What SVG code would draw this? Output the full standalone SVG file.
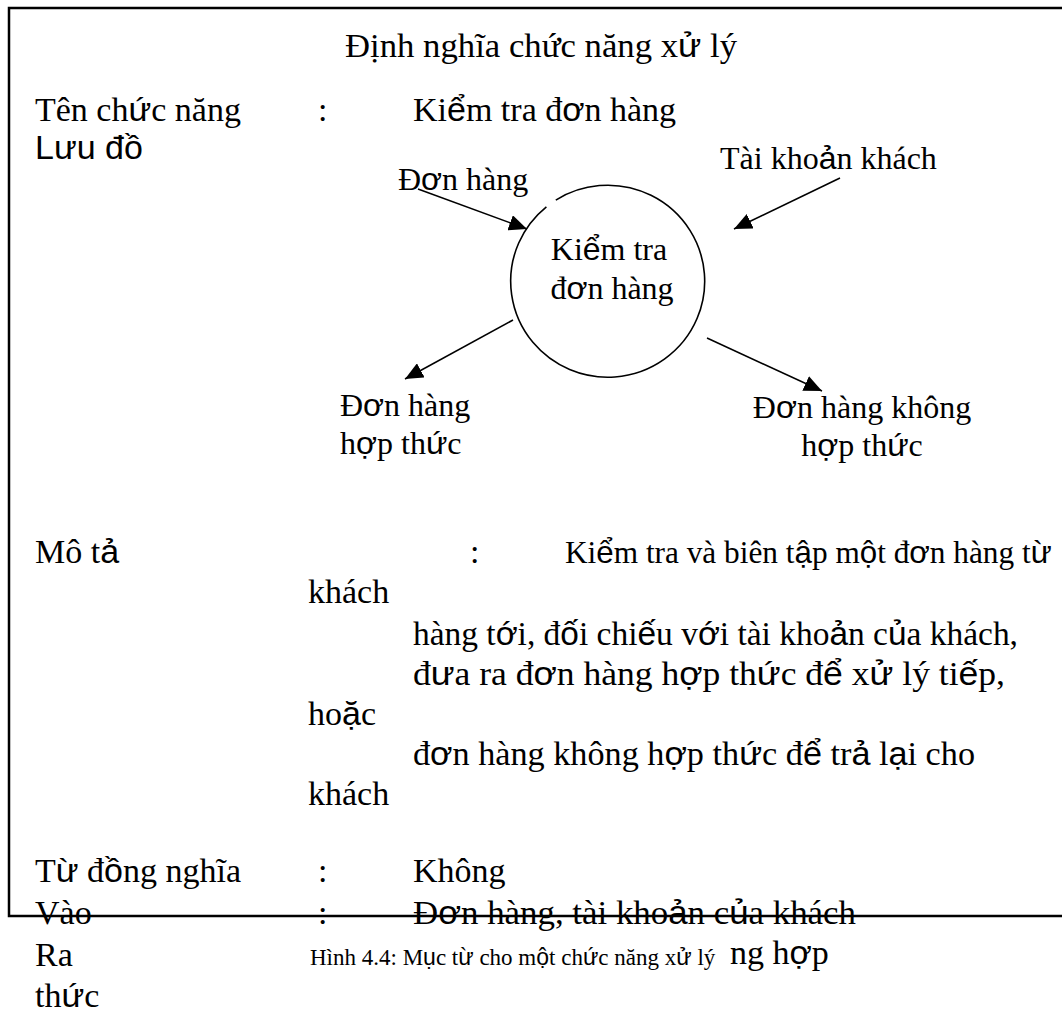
<svg xmlns="http://www.w3.org/2000/svg" width="1062" height="1014" viewBox="0 0 1062 1014">
  <style>
    text { font-family: "Liberation Serif", "Times New Roman", serif; font-size: 34px; fill: #000; }
    .lbl { font-size: 32px; }
    .cap { font-size: 23px; }
    .s { font-family: "Liberation Sans", Arial, sans-serif; }
    .frame { fill: none; stroke: #000; stroke-width: 2.5; }
    .flow { fill: none; stroke: #000; stroke-width: 1.6; }
  </style>
  <defs>
    <marker id="arrow" markerUnits="userSpaceOnUse" markerWidth="20" markerHeight="16" refX="18" refY="8" orient="auto">
      <path d="M0,0 L18,8 L0,16 Z" fill="#000"/>
    </marker>
  </defs>
  <rect width="1062" height="1014" fill="#fff"/>

  <!-- outer frame: open on the right -->
  <path class="frame" d="M1062,8 H9 V916 H1062"/>

  <!-- header -->
  <text x="345" y="57" textLength="392" lengthAdjust="spacingAndGlyphs">Định nghĩa chức năng x<tspan class="s">ử</tspan> lý</text>

  <text x="35" y="121">Tên ch<tspan class="s">ứ</tspan>c năng</text>
  <text x="318" y="121">:</text>
  <text x="413" y="121">Ki<tspan class="s">ể</tspan>m tra đ<tspan class="s">ơ</tspan>n hàng</text>

  <text x="35" y="159" class="s">Lưu đồ</text>

  <!-- process bubble -->
  <g id="process">
    <path class="flow" d="M555.8,200.1 A97,96 0 1 1 546.4,206.8"/>
    <text x="609" y="260" text-anchor="middle" class="lbl">Ki<tspan class="s">ể</tspan>m tra</text>
    <text x="612" y="299" text-anchor="middle" class="lbl">đ<tspan class="s">ơ</tspan>n hàng</text>
  </g>

  <g id="in-order">
    <text x="398" y="190" class="lbl">Đ<tspan class="s">ơ</tspan>n hàng</text>
  </g>
  <g id="in-account">
    <text x="720" y="169" class="lbl">Tài kho<tspan class="s">ả</tspan>n khách</text>
  </g>
  <g id="out-valid">
    <text x="340" y="416" class="lbl">Đ<tspan class="s">ơ</tspan>n hàng</text>
    <text x="340" y="454" class="lbl">h<tspan class="s">ợ</tspan>p th<tspan class="s">ứ</tspan>c</text>
  </g>
  <g id="out-invalid">
    <text x="862" y="418" text-anchor="middle" class="lbl">Đ<tspan class="s">ơ</tspan>n hàng không</text>
    <text x="862" y="456" text-anchor="middle" class="lbl">h<tspan class="s">ợ</tspan>p th<tspan class="s">ứ</tspan>c</text>
  </g>

  <!-- data flows -->
  <g id="connectors">
    <line class="flow" x1="418" y1="189" x2="527" y2="229" marker-end="url(#arrow)"/>
    <line class="flow" x1="840" y1="178" x2="734" y2="229" marker-end="url(#arrow)"/>
    <line class="flow" x1="513" y1="320" x2="405" y2="379" marker-end="url(#arrow)"/>
    <line class="flow" x1="707" y1="338" x2="822" y2="391" marker-end="url(#arrow)"/>
  </g>

  <!-- description -->
  <text x="35" y="563">Mô t<tspan class="s">ả</tspan></text>
  <text x="470" y="563">:</text>
  <text x="565" y="563" style="font-size:31.3px">Ki<tspan class="s">ể</tspan>m tra và biên t<tspan class="s">ậ</tspan>p m<tspan class="s">ộ</tspan>t đ<tspan class="s">ơ</tspan>n hàng t<tspan class="s">ừ</tspan></text>
  <text x="308" y="603">khách</text>
  <text x="413" y="645" textLength="605" lengthAdjust="spacingAndGlyphs">hàng t<tspan class="s">ớ</tspan>i, đ<tspan class="s">ố</tspan>i chi<tspan class="s">ế</tspan>u v<tspan class="s">ớ</tspan>i tài kho<tspan class="s">ả</tspan>n c<tspan class="s">ủ</tspan>a khách,</text>
  <text x="413" y="685" textLength="592" lengthAdjust="spacingAndGlyphs">đ<tspan class="s">ư</tspan>a ra đ<tspan class="s">ơ</tspan>n hàng h<tspan class="s">ợ</tspan>p th<tspan class="s">ứ</tspan>c đ<tspan class="s">ể</tspan> x<tspan class="s">ử</tspan> lý ti<tspan class="s">ế</tspan>p,</text>
  <text x="308" y="725">ho<tspan class="s">ặ</tspan>c</text>
  <text x="413" y="765" textLength="562" lengthAdjust="spacingAndGlyphs">đ<tspan class="s">ơ</tspan>n hàng không h<tspan class="s">ợ</tspan>p th<tspan class="s">ứ</tspan>c đ<tspan class="s">ể</tspan> tr<tspan class="s">ả</tspan> l<tspan class="s">ạ</tspan>i cho</text>
  <text x="308" y="805">khách</text>

  <!-- remaining fields -->
  <text x="35" y="882">T<tspan class="s">ừ</tspan> đ<tspan class="s">ồ</tspan>ng nghĩa</text>
  <text x="318" y="882">:</text>
  <text x="413" y="882">Không</text>

  <text x="35" y="924">Vào</text>
  <text x="318" y="924">:</text>
  <text x="413" y="924" textLength="443" lengthAdjust="spacingAndGlyphs">Đ<tspan class="s">ơ</tspan>n hàng, tài kho<tspan class="s">ả</tspan>n c<tspan class="s">ủ</tspan>a khách</text>

  <text x="35" y="966">Ra</text>
  <text x="730" y="964">ng h<tspan class="s">ợ</tspan>p</text>
  <text x="35" y="1007">th<tspan class="s">ứ</tspan>c</text>

  <text x="310" y="965" class="cap">Hình 4.4: M<tspan class="s">ụ</tspan>c t<tspan class="s">ừ</tspan> cho m<tspan class="s">ộ</tspan>t ch<tspan class="s">ứ</tspan>c năng x<tspan class="s">ử</tspan> lý</text>
</svg>
